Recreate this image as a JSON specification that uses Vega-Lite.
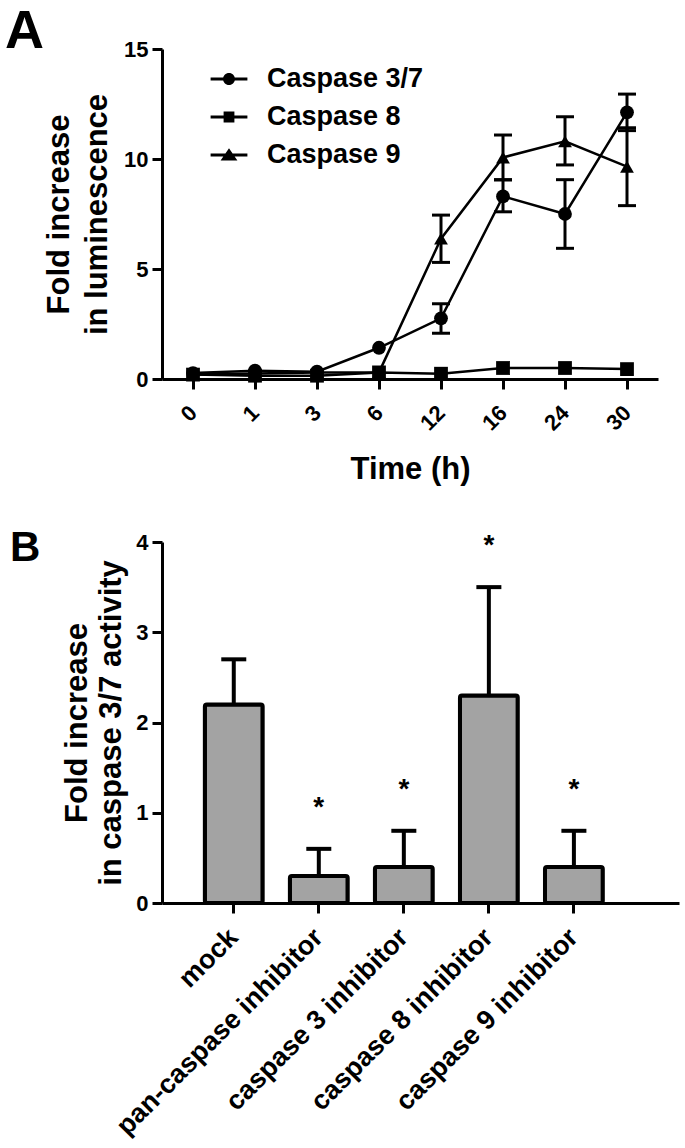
{
  "$schema": "https://vega.github.io/schema/vega-lite/v6.json",
  "background": "white",
  "padding": {"left": 5, "top": 5, "right": 5, "bottom": 5},
  "config": {
    "font": "Liberation Sans",
    "view": {"stroke": null},
    "axis": {
      "domainColor": "black", "domainWidth": 3, "tickColor": "black", "tickWidth": 3, "tickSize": 10,
      "labelFont": "Liberation Sans", "labelFontWeight": "bold", "labelColor": "black", "labelFontSize": 22,
      "titleFont": "Liberation Sans", "titleFontWeight": "bold", "titleColor": "black", "titleFontSize": 31,
      "grid": false, "labelLimit": 0
    },
    "title": {"font": "Liberation Sans", "fontWeight": "bold", "color": "black", "anchor": "start", "frame": "group", "baseline": "alphabetic"}
  },
  "columns": 1,
  "align": "none",
  "spacing": 42,
  "concat": [
    {
      "width": 496,
      "height": 330,
      "title": {"text": "A", "fontSize": 54, "dx": -157, "offset": -21},
      "data": {"values": [
        {"series": "Caspase 3/7", "time": 0, "mean": 0.27, "lo": null, "hi": null},
        {"series": "Caspase 3/7", "time": 1, "mean": 0.38, "lo": null, "hi": null},
        {"series": "Caspase 3/7", "time": 3, "mean": 0.33, "lo": null, "hi": null},
        {"series": "Caspase 3/7", "time": 6, "mean": 1.42, "lo": null, "hi": null},
        {"series": "Caspase 3/7", "time": 12, "mean": 2.76, "lo": 2.08, "hi": 3.42},
        {"series": "Caspase 3/7", "time": 16, "mean": 8.3, "lo": 7.6, "hi": 9.06},
        {"series": "Caspase 3/7", "time": 24, "mean": 7.5, "lo": 5.94, "hi": 9.06},
        {"series": "Caspase 3/7", "time": 30, "mean": 12.12, "lo": 11.29, "hi": 12.95},
        {"series": "Caspase 8", "time": 0, "mean": 0.2, "lo": null, "hi": null},
        {"series": "Caspase 8", "time": 1, "mean": 0.15, "lo": null, "hi": null},
        {"series": "Caspase 8", "time": 3, "mean": 0.15, "lo": null, "hi": null},
        {"series": "Caspase 8", "time": 6, "mean": 0.3, "lo": null, "hi": null},
        {"series": "Caspase 8", "time": 12, "mean": 0.24, "lo": null, "hi": null},
        {"series": "Caspase 8", "time": 16, "mean": 0.5, "lo": null, "hi": null},
        {"series": "Caspase 8", "time": 24, "mean": 0.5, "lo": null, "hi": null},
        {"series": "Caspase 8", "time": 30, "mean": 0.45, "lo": null, "hi": null},
        {"series": "Caspase 9", "time": 0, "mean": 0.2, "lo": null, "hi": null},
        {"series": "Caspase 9", "time": 1, "mean": 0.25, "lo": null, "hi": null},
        {"series": "Caspase 9", "time": 3, "mean": 0.3, "lo": null, "hi": null},
        {"series": "Caspase 9", "time": 6, "mean": 0.3, "lo": null, "hi": null},
        {"series": "Caspase 9", "time": 12, "mean": 6.38, "lo": 5.3, "hi": 7.45},
        {"series": "Caspase 9", "time": 16, "mean": 10.07, "lo": 9.05, "hi": 11.09},
        {"series": "Caspase 9", "time": 24, "mean": 10.8, "lo": 9.73, "hi": 11.92},
        {"series": "Caspase 9", "time": 30, "mean": 9.65, "lo": 7.88, "hi": 11.42}
      ]},
      "encoding": {
        "x": {
          "field": "time", "type": "ordinal",
          "scale": {"type": "point", "padding": 0.5},
          "axis": {"title": "Time (h)", "labelAngle": -45, "labelAlign": "right", "labelBaseline": "middle", "labelPadding": 20, "titlePadding": 20}
        }
      },
      "resolve": {"scale": {"shape": "independent"}, "legend": {"shape": "independent"}},
      "layer": [
        {
          "transform": [{"filter": "isValid(datum.lo)"}],
          "mark": {"type": "rule", "strokeWidth": 3, "color": "black"},
          "encoding": {
            "y": {"field": "lo", "type": "quantitative", "scale": {"domain": [0, 15], "nice": false}, "title": ["Fold increase", "in luminescence"]},
            "y2": {"field": "hi"}
          }
        },
        {
          "transform": [{"filter": "isValid(datum.lo)"}],
          "mark": {"type": "tick", "thickness": 3, "size": 18, "color": "black", "opacity": 1},
          "encoding": {
            "y": {"field": "lo", "type": "quantitative", "title": ["Fold increase", "in luminescence"]}
          }
        },
        {
          "transform": [{"filter": "isValid(datum.lo)"}],
          "mark": {"type": "tick", "thickness": 3, "size": 18, "color": "black", "opacity": 1},
          "encoding": {
            "y": {"field": "hi", "type": "quantitative", "title": ["Fold increase", "in luminescence"]}
          }
        },
        {
          "mark": {"type": "line", "color": "black", "strokeWidth": 2.5},
          "encoding": {
            "y": {"field": "mean", "type": "quantitative", "title": ["Fold increase", "in luminescence"],
                  "axis": {"values": [0, 5, 10, 15], "titleLineHeight": 38, "titlePadding": 10, "labelPadding": 4}},
            "detail": {"field": "series", "type": "nominal"}
          }
        },
        {
          "mark": {"type": "point", "filled": true, "opacity": 1, "color": "black", "size": 190},
          "encoding": {
            "y": {"field": "mean", "type": "quantitative", "title": ["Fold increase", "in luminescence"]},
            "shape": {
              "field": "series", "type": "nominal",
              "scale": {"domain": ["Caspase 3/7", "Caspase 8", "Caspase 9"], "range": ["circle", "square", "triangle-up"]},
              "legend": null
            }
          }
        },
        {
          "mark": {"type": "point", "filled": true, "opacity": 0, "color": "black", "size": 1600},
          "encoding": {
            "y": {"field": "mean", "type": "quantitative", "title": ["Fold increase", "in luminescence"]},
            "shape": {
              "field": "series", "type": "nominal",
              "scale": {"domain": ["Caspase 3/7", "Caspase 8", "Caspase 9"],
                        "range": ["M-0.92,-0.07L0.92,-0.07L0.92,0.07L-0.92,0.07ZM0.3,0A0.3,0.3,0,1,1,-0.3,0A0.3,0.3,0,1,1,0.3,0Z",
                                  "M-0.92,-0.07L0.92,-0.07L0.92,0.07L-0.92,0.07ZM-0.27,-0.27L0.27,-0.27L0.27,0.27L-0.27,0.27Z",
                                  "M-0.92,-0.07L0.92,-0.07L0.92,0.07L-0.92,0.07ZM0,-0.34L0.42,0.28L-0.42,0.28Z"]},
              "legend": {
                "title": null, "orient": "none", "legendX": 46, "legendY": 9, "padding": 0,
                "labelFont": "Liberation Sans", "labelFontSize": 27, "labelFontWeight": "bold", "labelColor": "black",
                "labelOffset": 17, "rowPadding": 4, "symbolSize": 1600,
                "symbolFillColor": "black", "symbolOpacity": 1
              }
            }
          }
        }
      ]
    },
    {
      "width": 517,
      "height": 361,
      "title": {"text": "B", "fontSize": 42, "dx": -152, "offset": -39},
      "data": {"values": [
        {"group": "mock", "mean": 2.2, "upper": 2.7, "sig": ""},
        {"group": "pan-caspase inhibitor", "mean": 0.3, "upper": 0.6, "sig": "*"},
        {"group": "caspase 3 inhibitor", "mean": 0.4, "upper": 0.8, "sig": "*"},
        {"group": "caspase 8 inhibitor", "mean": 2.3, "upper": 3.5, "sig": "*"},
        {"group": "caspase 9 inhibitor", "mean": 0.4, "upper": 0.8, "sig": "*"}
      ]},
      "encoding": {
        "x": {
          "field": "group", "type": "nominal", "sort": null,
          "scale": {"paddingInner": 0.32, "paddingOuter": 0.7, "align": 0.36},
          "axis": {"title": null, "labelAngle": -45, "labelAlign": "right", "labelBaseline": "middle", "labelFontSize": 27, "labelPadding": 20, "labelLimit": 0}
        }
      },
      "layer": [
        {
          "mark": {"type": "rule", "strokeWidth": 4, "color": "black"},
          "encoding": {
            "y": {"field": "mean", "type": "quantitative", "scale": {"domain": [0, 4], "nice": false}, "title": ["Fold increase", "in caspase 3/7 activity"]},
            "y2": {"field": "upper"}
          }
        },
        {
          "mark": {"type": "tick", "thickness": 4, "size": 25, "color": "black", "opacity": 1},
          "encoding": {
            "y": {"field": "upper", "type": "quantitative", "title": ["Fold increase", "in caspase 3/7 activity"]}
          }
        },
        {
          "mark": {"type": "bar", "fill": "#a3a3a3", "stroke": "black", "strokeWidth": 4, "cornerRadius": 2},
          "encoding": {
            "y": {"field": "mean", "type": "quantitative", "title": ["Fold increase", "in caspase 3/7 activity"],
                  "axis": {"values": [0, 1, 2, 3, 4], "format": "d", "titleLineHeight": 34, "titlePadding": 8, "labelPadding": 4}}
          }
        },
        {
          "mark": {"type": "text", "fontSize": 28, "fontWeight": "bold", "color": "black", "baseline": "alphabetic", "dy": -33},
          "encoding": {
            "y": {"field": "upper", "type": "quantitative", "title": ["Fold increase", "in caspase 3/7 activity"]},
            "text": {"field": "sig"}
          }
        }
      ]
    }
  ]
}
